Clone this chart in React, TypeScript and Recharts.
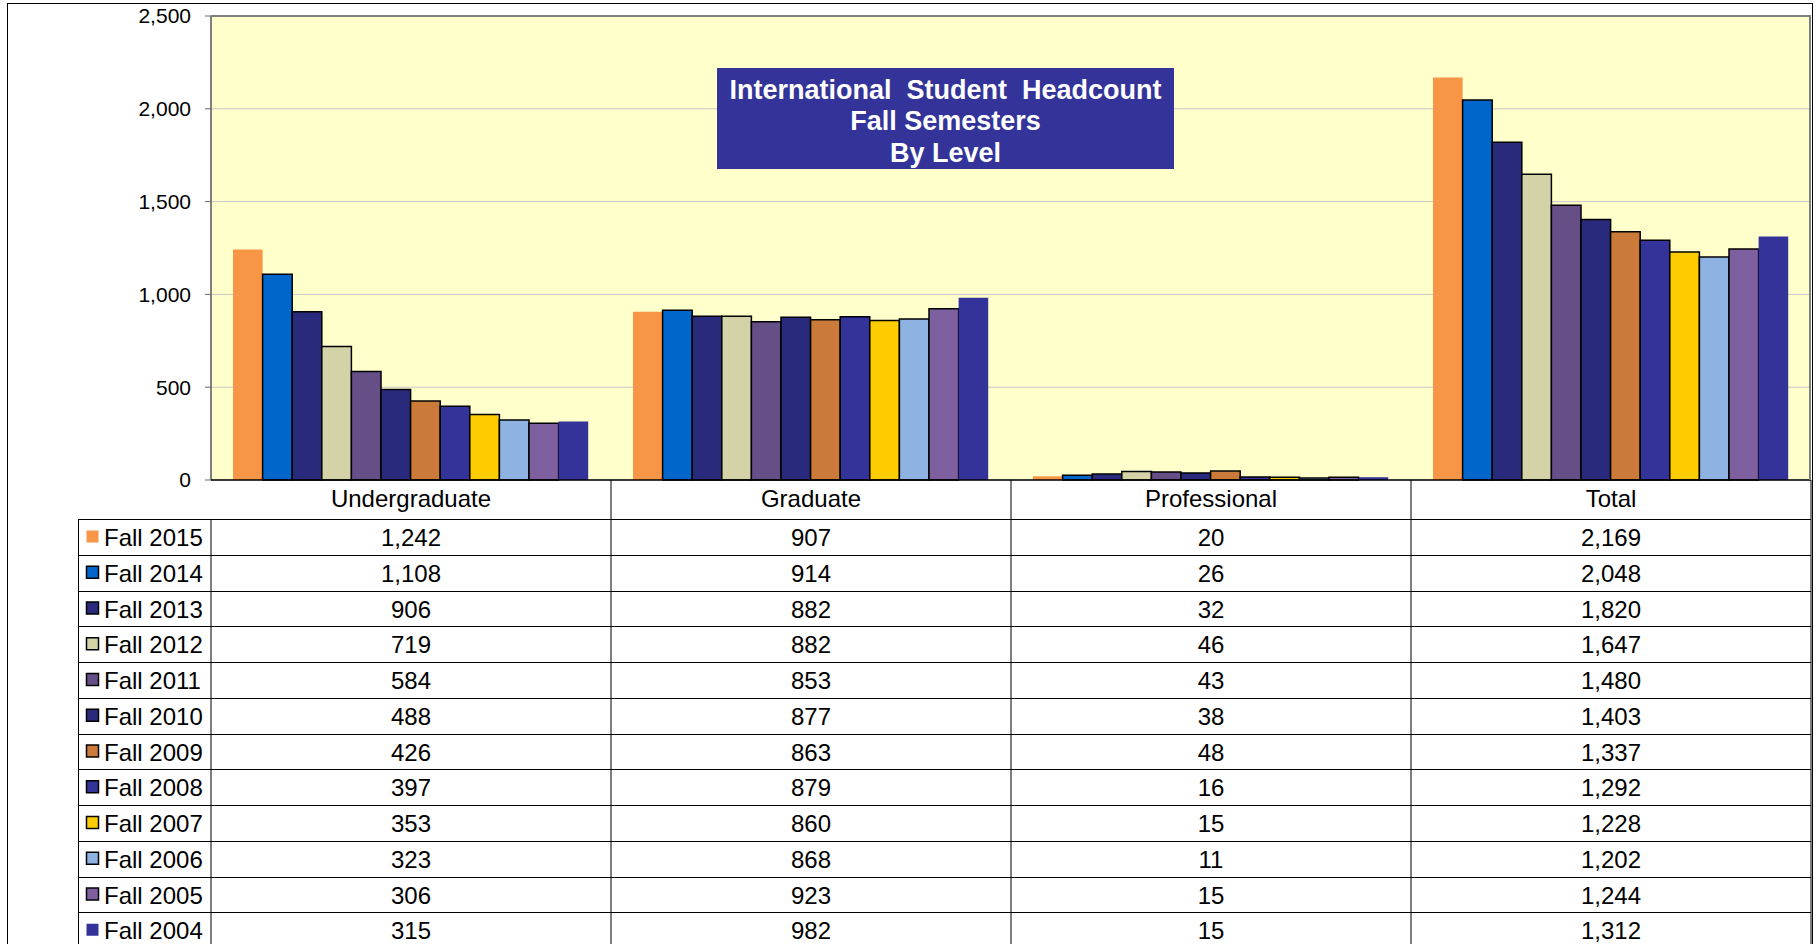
import { BarChart, Bar, XAxis, YAxis, CartesianGrid, ReferenceLine } from 'recharts';

const categories = ['Undergraduate', 'Graduate', 'Professional', 'Total'];

const seriesNames = [
  'Fall 2015', 'Fall 2014', 'Fall 2013', 'Fall 2012', 'Fall 2011', 'Fall 2010',
  'Fall 2009', 'Fall 2008', 'Fall 2007', 'Fall 2006', 'Fall 2005', 'Fall 2004',
];

// values per series, in category order
const fall2015 = [1242, 907, 20, 2169];
const fall2014 = [1108, 914, 26, 2048];
const fall2013 = [906, 882, 32, 1820];
const fall2012 = [719, 882, 46, 1647];
const fall2011 = [584, 853, 43, 1480];
const fall2010 = [488, 877, 38, 1403];
const fall2009 = [426, 863, 48, 1337];
const fall2008 = [397, 879, 16, 1292];
const fall2007 = [353, 860, 15, 1228];
const fall2006 = [323, 868, 11, 1202];
const fall2005 = [306, 923, 15, 1244];
const fall2004 = [315, 982, 15, 1312];

const seriesValues = [
  fall2015, fall2014, fall2013, fall2012, fall2011, fall2010,
  fall2009, fall2008, fall2007, fall2006, fall2005, fall2004,
];

const yTicks = [0, 500, 1000, 1500, 2000, 2500];

const COLORS = [
  '#F79646', '#0066CC', '#2A2A7C', '#D3D3A7', '#664E86', '#2A2A7C',
  '#CC7A3A', '#333399', '#FFCC00', '#8EB3E2', '#7E60A0', '#333399',
];
const OUTLINED = [false, true, true, true, true, true, true, true, true, true, true, false];

const FONT = '"Liberation Sans", Arial, sans-serif';
const COL_W = 400;
const LEGEND_W = 133;
const HEADER_H = 39;
const ROW_H = 35.75;
const PLOT_H = 464;
const BOTTOM = 944;

const data = categories.map((cat, ci) => {
  const row: Record<string, string | number> = { category: cat };
  seriesNames.forEach((name, si) => {
    row[name] = seriesValues[si][ci];
  });
  return row;
});

const fmt = (v: number) => v.toLocaleString('en-US');

function TableColumn(props: any) {
  const { x, y, payload, index } = props;
  const ci = categories.indexOf(payload.value);
  const left = x - COL_W / 2;
  const right = x + COL_W / 2;
  const rowsTop = y + HEADER_H;
  const lines = [];
  for (let i = 0; i <= seriesNames.length; i++) {
    const ly = Math.round(rowsTop + i * ROW_H) + 0.5;
    lines.push(<line key={'h' + i} x1={left} x2={right} y1={ly} y2={ly} stroke="#000" strokeWidth={1} />);
  }
  return (
    <g>
      <text x={x} y={y + 27} textAnchor="middle" fontFamily={FONT} fontSize={24} fill="#000">
        {payload.value}
      </text>
      {seriesNames.map((name, si) => (
        <text key={name} x={x} y={rowsTop + si * ROW_H + 27} textAnchor="middle" fontFamily={FONT} fontSize={24} fill="#000">
          {fmt(seriesValues[si][ci])}
        </text>
      ))}
      {lines}
      <line x1={right} x2={right} y1={y} y2={BOTTOM} stroke="#000" strokeWidth={1} />
      {index === categories.length - 1 && (
        <line x1={right - 1} x2={right - 1} y1={y - PLOT_H} y2={y} stroke="#808080" strokeWidth={2} />
      )}
      {index === 0 && (
        <g>
          <line x1={left} x2={left} y1={rowsTop} y2={BOTTOM} stroke="#000" strokeWidth={1} />
          <line x1={left - LEGEND_W + 0.5} x2={left - LEGEND_W + 0.5} y1={rowsTop} y2={BOTTOM} stroke="#000" strokeWidth={1} />
          {seriesNames.map((name, si) => {
            const top = rowsTop + si * ROW_H;
            const ly = Math.round(top + ROW_H) + 0.5;
            return (
              <g key={name}>
                <line x1={left - LEGEND_W} x2={left} y1={ly} y2={ly} stroke="#000" strokeWidth={1} />
                <rect
                  x={left - LEGEND_W + 8.5}
                  y={top + 11.5}
                  width={12}
                  height={12}
                  fill={COLORS[si]}
                  stroke={OUTLINED[si] ? '#000' : 'none'}
                  strokeWidth={1.5}
                />
                <text x={left - LEGEND_W + 26} y={top + 27} fontFamily={FONT} fontSize={24} fill="#000">
                  {name}
                </text>
              </g>
            );
          })}
          <line x1={left - LEGEND_W} x2={left} y1={Math.round(rowsTop) + 0.5} y2={Math.round(rowsTop) + 0.5} stroke="#000" strokeWidth={1} />
        </g>
      )}
    </g>
  );
}

export default function App() {
  return (
    <div style={{ position: 'absolute', left: 0, top: 0, width: 1818, height: 944, background: '#fff', overflow: 'hidden' }}>
      <div
        style={{
          position: 'absolute', left: 7, top: 3, width: 1806, height: 941,
          border: '1px solid #000', borderBottom: 'none', boxSizing: 'border-box',
        }}
      />
      <div style={{ position: 'absolute', left: 0, top: 0 }}>
        <BarChart
          width={1818}
          height={944}
          data={data}
          margin={{ top: 16, right: 7, bottom: 0, left: 0 }}
          barSize={29.6}
          barGap={0}
        >
          <CartesianGrid vertical={false} stroke="#C8C8C8" fill="#FFFFCC" />
          <YAxis
            width={211}
            domain={[0, 2500]}
            ticks={yTicks}
            interval={0}
            tickFormatter={fmt}
            tick={{ fill: '#000', fontSize: 21, fontFamily: FONT }}
            tickSize={6}
            tickMargin={14}
            tickLine={{ stroke: '#666' }}
            axisLine={{ stroke: '#808080', strokeWidth: 2 }}
          />
          <XAxis
            dataKey="category"
            height={464}
            interval={0}
            tickSize={0}
            tickMargin={0}
            tickLine={false}
            axisLine={{ stroke: '#000', strokeWidth: 1.5 }}
            tick={<TableColumn />}
          />
          {seriesNames.map((name, si) => (
            <Bar
              key={name}
              dataKey={name}
              fill={COLORS[si]}
              stroke={OUTLINED[si] ? '#000' : 'none'}
              strokeWidth={1.5}
              isAnimationActive={false}
            />
          ))}
          <ReferenceLine y={2500} stroke="#808080" strokeWidth={2} />
        </BarChart>
      </div>
      <div
        style={{
          position: 'absolute', left: 717, top: 68, width: 457, height: 101,
          background: '#333399', color: '#fff', fontFamily: FONT, fontWeight: 'bold',
          fontSize: 27, lineHeight: '31.5px', textAlign: 'center', whiteSpace: 'pre',
          paddingTop: 6.5, boxSizing: 'border-box',
        }}
      >
        {'International  Student  Headcount\nFall Semesters\nBy Level'}
      </div>
    </div>
  );
}
